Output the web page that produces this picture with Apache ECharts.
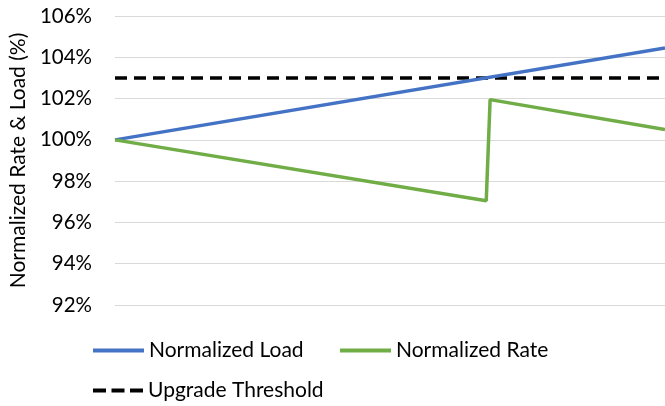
<!DOCTYPE html>
<html>
<head>
<meta charset="utf-8">
<script src="https://cdn.jsdelivr.net/npm/echarts@6/dist/echarts.min.js"></script>
<style>html,body{margin:0;padding:0;background:#fff}#c{width:665px;height:406px}</style>
</head>
<body>
<div id="c"></div>
<script>
// x positions are relative time (0..100)
const loadX = [0, 100];
const loadY = [100, 104.45];
const rateX = [0, 67.5, 68.2, 100];
const rateY = [100, 97.05, 101.95, 100.5];
const thrX = [0, 100];
const thrY = [103, 103];
const yTicks = [92, 94, 96, 98, 100, 102, 104, 106];

const zip = (xs, ys) => xs.map((x, i) => [x, ys[i]]);
const font = 'Lato, "Open Sans", sans-serif';
const legText = {fontFamily: font, fontSize: 21, color: '#000'};
const dashIcon = 'path://M0,0h13v4h-13z M18.5,0h13v4h-13z M37,0h13v4h-13z';
const chart = echarts.init(document.getElementById('c'), null, {renderer: 'canvas'});
chart.setOption({
  animation: false,
  grid: {left: 113, right: 0, top: 16, bottom: 101},
  xAxis: {type: 'value', min: 0, max: 100, show: true,
    axisLine: {show: false}, axisTick: {show: false}, axisLabel: {show: false}, splitLine: {show: false}},
  yAxis: {type: 'value', min: yTicks[0], max: yTicks[yTicks.length - 1], interval: 2,
    name: 'Normalized Rate & Load (%)', nameLocation: 'middle', nameGap: 86,
    nameTextStyle: {fontFamily: font, fontSize: 21, color: '#000'},
    axisLine: {show: false}, axisTick: {show: false},
    axisLabel: {formatter: v => v + '%', fontFamily: font, fontSize: 20.5, color: '#000', margin: 23},
    splitLine: {lineStyle: {color: '#d9d9d9', width: 1}}},
  legend: [
    {data: [{name: 'Normalized Load', icon: 'rect'}], left: 93, top: 340, padding: 0, itemWidth: 51, itemHeight: 4,
      textStyle: legText},
    {data: [{name: 'Normalized Rate', icon: 'rect'}], left: 340, top: 340, padding: 0, itemWidth: 51, itemHeight: 4,
      textStyle: legText},
    {data: [{name: 'Upgrade Threshold', icon: dashIcon}], left: 93, top: 380, padding: 0, itemWidth: 50, itemHeight: 4,
      textStyle: legText}
  ],
  series: [
    {name: 'Normalized Load', type: 'line', data: zip(loadX, loadY), symbol: 'none',
      lineStyle: {color: '#4472C4', width: 3.5}, itemStyle: {color: '#4472C4'}},
    {name: 'Normalized Rate', type: 'line', data: zip(rateX, rateY), symbol: 'none',
      lineStyle: {color: '#70AD47', width: 3.5}, itemStyle: {color: '#70AD47'}},
    {name: 'Upgrade Threshold', type: 'line', data: zip(thrX, thrY), symbol: 'none', z: 1,
      lineStyle: {color: '#000', width: 3.5, type: [12, 7]}, itemStyle: {color: '#000'}}
  ]
});
</script>
</body>
</html>
